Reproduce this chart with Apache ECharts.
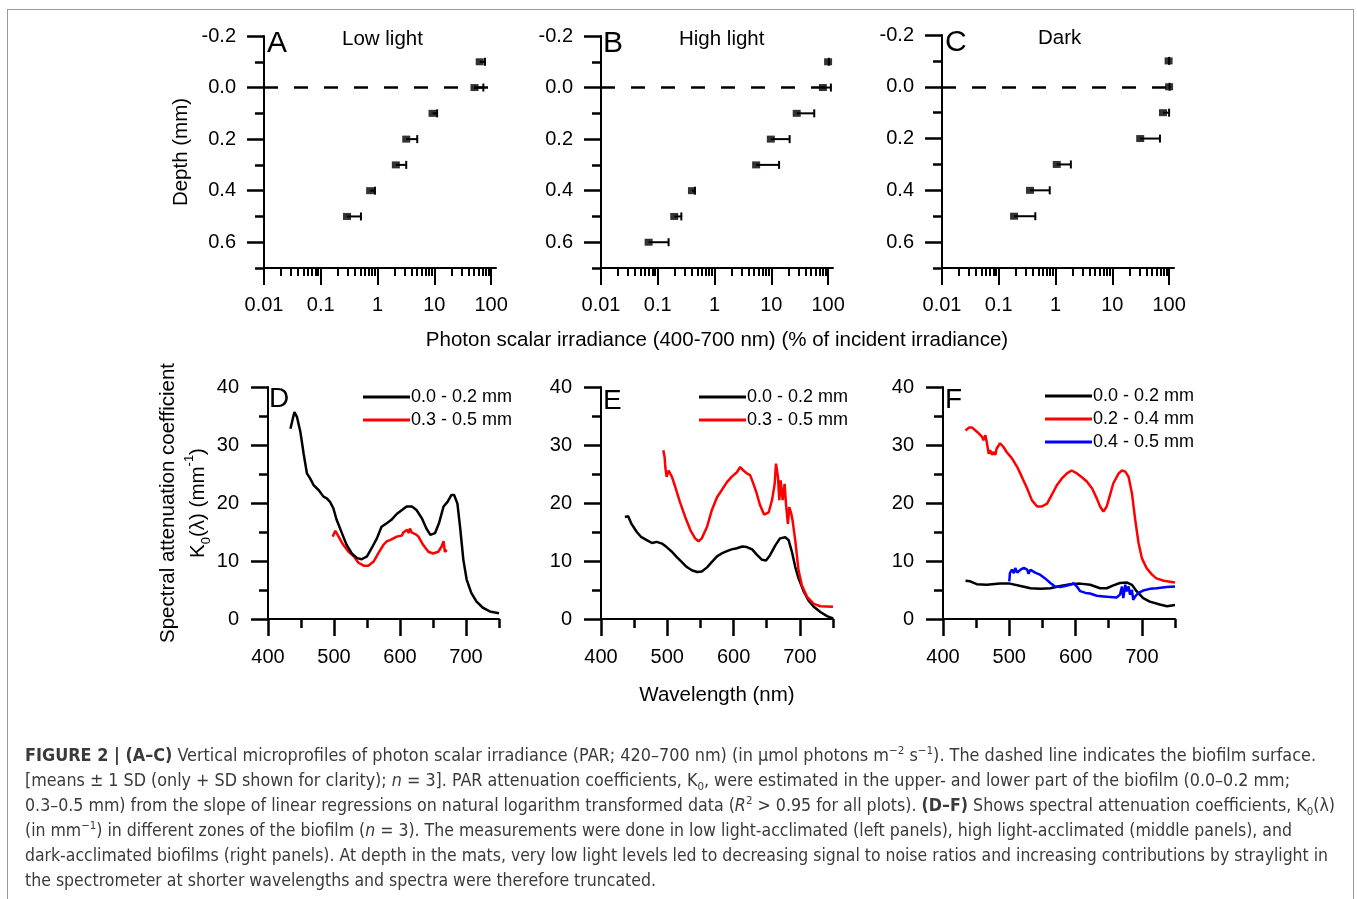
<!DOCTYPE html>
<html><head><meta charset="utf-8">
<script src="https://cdn.jsdelivr.net/npm/echarts@6.0.0/dist/echarts.min.js"></script>
<style>
html,body{margin:0;padding:0;background:#fff;}
#wrap{position:relative;width:1357px;height:899px;overflow:hidden;background:#fff;}
#chart{position:absolute;left:0;top:0;width:1357px;height:899px;}
#frame{position:absolute;left:7px;top:9px;width:1347px;height:900px;border:1px solid #9a9a9a;box-sizing:border-box;pointer-events:none;}
#caption{position:absolute;left:25px;top:743px;font-family:'Liberation Sans Narrow','DejaVu Sans Condensed','Liberation Sans',sans-serif;font-size:17px;line-height:25px;color:#3a3a3a;}
#caption .ln{white-space:nowrap;transform-origin:0 50%;display:block;width:max-content;}
#caption sup,#caption sub{font-size:11px;line-height:0;}
</style></head>
<body>
<div id="wrap">
<div id="chart"></div>
<div id="frame"></div>
<div id="caption">
<div class="ln" data-w="1291"><b>FIGURE 2 | (A–C)</b> Vertical microprofiles of photon scalar irradiance (PAR; 420–700 nm) (in μmol photons m<sup>−2</sup> s<sup>−1</sup>). The dashed line indicates the biofilm surface.</div>
<div class="ln" data-w="1265">[means ± 1 SD (only + SD shown for clarity); <i>n</i> = 3]. PAR attenuation coefficients, K<sub>0</sub>, were estimated in the upper- and lower part of the biofilm (0.0–0.2 mm;</div>
<div class="ln" data-w="1310">0.3–0.5 mm) from the slope of linear regressions on natural logarithm transformed data (<i>R</i><sup>2</sup> &gt; 0.95 for all plots). <b>(D–F)</b> Shows spectral attenuation coefficients, K<sub>0</sub>(λ)</div>
<div class="ln" data-w="1267">(in mm<sup>−1</sup>) in different zones of the biofilm (<i>n</i> = 3). The measurements were done in low light-acclimated (left panels), high light-acclimated (middle panels), and</div>
<div class="ln" data-w="1303">dark-acclimated biofilms (right panels). At depth in the mats, very low light levels led to decreasing signal to noise ratios and increasing contributions by straylight in</div>
<div class="ln" data-w="631">the spectrometer at shorter wavelengths and spectra were therefore truncated.</div>
</div>
</div>
<script>
// ---------------- DATA ----------------
// Panels A-C: depth (mm), mean irradiance (% of incident), +1 SD
const depthA = [-0.1, 0, 0.1, 0.2, 0.3, 0.4, 0.5];
const meanA  = [63, 51, 9.3, 3.2, 2.1, 0.74, 0.29];
const sdA    = [15, 22, 1.9, 1.8, 1.1, 0.16, 0.22];

const depthB = [-0.1, 0, 0.1, 0.2, 0.3, 0.4, 0.5, 0.6];
const meanB  = [100, 81, 28, 9.8, 5.4, 0.40, 0.195, 0.069];
const sdB    = [3, 31, 29, 11.2, 8.3, 0.05, 0.065, 0.086];

const depthC = [-0.1, 0, 0.1, 0.2, 0.3, 0.4, 0.5];
const meanC  = [98, 100, 78, 31, 1.05, 0.355, 0.186];
const sdC    = [2, 2, 22, 38, 0.81, 0.435, 0.254];

// Panels D-F: wavelength (nm) and K0 (mm^-1)
const wlD1 = [434,440,444,449,454,459,464,469,477,484,489,494,499,504,512,519,527,535,542,550,557,565,572,580,587,595,603,610,618,625,633,640,646,653,659,666,672,678,682,687,691,696,701,708,716,726,736,750];
const kD1  = [32.8,35.7,34.8,32.3,28.5,25.1,24.2,23.1,22.2,21.1,20.8,20.2,19.1,17.1,14.8,12.8,11.3,10.5,10.3,10.8,12.2,13.9,15.9,16.5,17.1,18.1,18.8,19.4,19.4,18.8,17.4,15.6,14.5,14.8,16.5,19.4,20.2,21.4,21.4,19.9,15.9,10.2,6.8,4.5,3.0,1.9,1.3,1.0];
const wlD2 = [498,502,507,514,522,530,537,545,552,560,567,575,580,585,590,595,598,603,605,608,611,613,615,618,620,624,628,635,643,650,658,663,666,668,671];
const kD2  = [14.2,15.2,14.2,12.8,11.6,10.8,9.7,9.2,9.2,9.9,11.3,12.8,13.4,13.6,13.9,14.2,14.5,14.4,14.9,14.6,15.4,14.8,15.6,14.9,14.8,14.6,14.2,12.8,11.6,11.3,11.6,12.5,13.4,11.6,11.9];

const wlE1 = [436,441,446,454,461,469,477,484,492,499,507,514,522,529,537,545,552,560,567,575,582,590,597,605,613,620,628,635,643,649,655,663,670,678,683,688,693,698,706,713,721,731,741,750];
const kE1  = [17.6,17.7,16.4,15.0,14.1,13.6,13.1,13.3,13.0,12.4,11.6,10.7,9.8,9.0,8.4,8.1,8.2,8.9,9.8,10.8,11.3,11.7,12.0,12.2,12.5,12.4,12.0,11.1,10.2,10.1,11.0,12.7,13.9,14.1,13.6,11.6,9.0,7.0,4.7,3.2,2.1,1.2,0.5,0.1];
const wlE2 = [494,496,497,499,502,504,507,512,519,527,535,542,547,552,560,567,575,582,590,597,605,610,615,620,625,630,635,640,646,653,658,662,664,667,669,671,674,677,679,682,684,687,689,693,698,703,711,721,731,750];
const kE2  = [29.1,27.9,26.2,24.5,25.6,25.3,24.5,22.8,20.2,17.6,15.3,13.9,13.4,13.9,15.9,18.7,21.0,22.2,23.6,24.5,25.3,26.2,25.6,25.1,24.8,23.3,21.6,19.6,18.0,18.4,20.5,23.3,26.8,24.5,20.5,23.9,20.5,23.3,19.9,16.4,19.3,18.2,17.0,13.6,8.4,5.8,3.8,2.6,2.2,2.1];

const wlF1 = [434,441,451,466,486,501,517,532,547,562,577,592,607,622,637,647,657,667,677,685,692,702,712,727,738,750];
const kF1  = [6.6,6.5,6.0,5.9,6.1,6.1,5.7,5.3,5.2,5.3,5.7,6.0,6.1,5.9,5.3,5.3,5.8,6.2,6.3,5.9,4.8,3.6,3.0,2.5,2.2,2.4];
const wlF2 = [434,439,444,449,454,459,461,464,466,469,471,474,476,479,481,486,491,496,504,512,519,527,534,542,549,557,564,572,579,587,594,602,610,617,625,632,637,642,647,652,657,665,670,675,680,685,690,695,700,707,715,722,733,750];
const kF2  = [32.5,33.0,33.0,32.5,32.0,31.4,30.8,31.7,30.5,28.5,29.1,28.3,28.8,28.3,29.4,30.3,29.7,28.8,27.7,26.2,24.5,22.5,20.5,19.4,19.4,19.9,21.4,23.1,24.2,25.1,25.6,25.1,24.4,23.7,22.5,20.8,19.4,18.5,19.4,21.4,23.4,25.1,25.6,25.4,24.5,21.7,17.1,13.1,10.5,8.8,7.7,7.0,6.6,6.3];
const wlF3 = [500,501,504,507,509,512,517,522,527,529,532,539,547,554,562,569,577,584,592,597,602,607,615,622,632,642,652,662,667,670,672,675,677,680,682,685,687,690,695,702,712,722,738,750];
const kF3  = [6.5,7.9,8.5,7.9,8.8,8.0,8.5,8.8,8.5,7.8,8.5,8.0,7.6,7.0,6.2,5.6,5.5,5.7,5.9,6.2,5.6,4.8,4.5,4.4,4.0,3.9,3.8,3.7,4.2,5.6,3.6,5.9,4.8,5.6,4.2,5.0,3.3,3.9,4.5,4.9,5.2,5.3,5.5,5.6];

// Tick labels / tick positions
const xMajorTicks = [0.01, 0.1, 1, 10, 100];
const xMinorTicks = [0.02,0.03,0.04,0.05,0.06,0.07,0.08,0.09,0.2,0.3,0.4,0.5,0.6,0.7,0.8,0.9,2,3,4,5,6,7,8,9,20,30,40,50,60,70,80,90];
const depthMajorTicks = [-0.2, 0, 0.2, 0.4, 0.6];
const depthMinorTicks = [-0.1, 0.1, 0.3, 0.5, 0.7];
const wlMajorTicks = [400, 500, 600, 700];
const wlMinorTicks = [450, 550, 650, 750];

const panelLetters = ['A', 'B', 'C', 'D', 'E', 'F'];
const panelTitles = ['Low light', 'High light', 'Dark'];
const legendNames = ['0.0 - 0.2 mm', '0.3 - 0.5 mm', '0.2 - 0.4 mm', '0.4 - 0.5 mm'];

// ---------------- CHART ----------------
const FONT = "'Liberation Sans', Arial, sans-serif";
const chart = echarts.init(document.getElementById('chart'), null, {renderer: 'canvas'});

const topGrids = [
  {left: 264, top: 36, width: 232, height: 232},
  {left: 601, top: 36, width: 232, height: 232},
  {left: 942, top: 35, width: 232, height: 233}
];
const botGrids = [
  {left: 268, top: 387, width: 231, height: 232},
  {left: 601, top: 387, width: 232, height: 232},
  {left: 943, top: 387, width: 232, height: 232}
];
const grids = topGrids.concat(botGrids).map(g => Object.assign({outerBoundsMode: 'none', containLabel: false}, g));

const axisLineStyle = {show: true, onZero: false, lineStyle: {color: '#000', width: 2}};
const labelStyle = {color: '#000', fontSize: 20, fontFamily: FONT};
const nameStyle = {color: '#000', fontSize: 20.5, fontFamily: FONT};

const xAxes = [];
const yAxes = [];
// main axes 0..5
for (let i = 0; i < 3; i++) {
  xAxes.push({
    type: 'log', gridIndex: i, min: 0.01, max: 122, position: 'bottom',
    axisLine: axisLineStyle, splitLine: {show: false},
    axisTick: {show: true, inside: false, length: 17, lineStyle: {color: '#000', width: 2}, customValues: xMajorTicks},
    axisLabel: Object.assign({margin: 27, customValues: xMajorTicks, formatter: v => String(+v.toPrecision(3))}, labelStyle),
    name: i === 1 ? 'Photon scalar irradiance (400-700 nm) (% of incident irradiance)' : '',
    nameLocation: 'middle', nameGap: 62,
    nameTextStyle: nameStyle
  });
}
for (let i = 0; i < 3; i++) {
  xAxes.push({
    type: 'value', gridIndex: 3 + i, min: 400, max: 750, position: 'bottom',
    axisLine: axisLineStyle, splitLine: {show: false},
    axisTick: {show: true, length: 17, lineStyle: {color: '#000', width: 2.5}, customValues: wlMajorTicks},
    axisLabel: Object.assign({margin: 28, customValues: wlMajorTicks}, labelStyle),
    name: i === 1 ? 'Wavelength (nm)' : '',
    nameLocation: 'middle', nameGap: 66,
    nameTextStyle: nameStyle
  });
}
for (let i = 0; i < 3; i++) {
  yAxes.push({
    type: 'value', gridIndex: i, min: -0.2, max: 0.7, inverse: true, position: 'left',
    axisLine: axisLineStyle, splitLine: {show: false},
    axisTick: {show: true, length: 17, lineStyle: {color: '#000', width: 2.5}, customValues: depthMajorTicks},
    axisLabel: Object.assign({margin: 28, customValues: depthMajorTicks, formatter: v => (+v).toFixed(1)}, labelStyle),
    name: i === 0 ? 'Depth (mm)' : '',
    nameLocation: 'middle', nameGap: 72,
    nameTextStyle: nameStyle
  });
}
for (let i = 0; i < 3; i++) {
  yAxes.push({
    type: 'value', gridIndex: 3 + i, min: 0, max: 40, interval: 10, position: 'left',
    axisLine: axisLineStyle, splitLine: {show: false},
    axisTick: {show: true, length: 17, lineStyle: {color: '#000', width: 2.5}},
    minorTick: {show: true, splitNumber: 2, length: 9, lineStyle: {color: '#000', width: 2.5}},
    axisLabel: Object.assign({margin: 29}, labelStyle),
    name: i === 0 ? '{t|Spectral attenuation coefficient}\n{t|K}{sub|0}{t|(λ) (mm}{sup|-1}{t|)}' : '',
    nameLocation: 'middle', nameGap: 47,
    nameTextStyle: {
      color: '#000', fontSize: 20.5, fontFamily: FONT, lineHeight: 30,
      rich: {
        t: {fontSize: 20.5, fontFamily: FONT, color: '#000', lineHeight: 30},
        sub: {fontSize: 13, fontFamily: FONT, color: '#000', verticalAlign: 'bottom', lineHeight: 26},
        sup: {fontSize: 13, fontFamily: FONT, color: '#000', verticalAlign: 'top', lineHeight: 30}
      }
    }
  });
}
// minor tick axes 6..11
for (let i = 0; i < 3; i++) {
  xAxes.push({
    type: 'log', gridIndex: i, min: 0.01, max: 122, position: 'bottom', offset: 0,
    axisLine: {show: false, onZero: false}, splitLine: {show: false}, axisLabel: {show: false},
    axisTick: {show: true, length: 8, lineStyle: {color: '#000', width: 2}, customValues: xMinorTicks}
  });
  yAxes.push({
    type: 'value', gridIndex: i, min: -0.2, max: 0.7, inverse: true, position: 'left', offset: 0,
    axisLine: {show: false, onZero: false}, splitLine: {show: false}, axisLabel: {show: false},
    axisTick: {show: true, length: 9, lineStyle: {color: '#000', width: 2.5}, customValues: depthMinorTicks}
  });
}
for (let i = 0; i < 3; i++) {
  xAxes.push({
    type: 'value', gridIndex: 3 + i, min: 400, max: 750, position: 'bottom', offset: 0,
    axisLine: {show: false, onZero: false}, splitLine: {show: false}, axisLabel: {show: false},
    axisTick: {show: true, length: 9, lineStyle: {color: '#000', width: 2.5}, customValues: wlMinorTicks}
  });
}

// series
const series = [];
const profiles = [[depthA, meanA, sdA], [depthB, meanB, sdB], [depthC, meanC, sdC]];
profiles.forEach((p, i) => {
  const [dep, mean, sd] = p;
  series.push({
    type: 'custom', xAxisIndex: i, yAxisIndex: i, z: 3, silent: true,
    data: mean.map((m, k) => [m, dep[k], m + sd[k]]),
    encode: {x: [0, 2], y: 1},
    renderItem: function (params, api) {
      const p0 = api.coord([api.value(0), api.value(1)]);
      const p1 = api.coord([api.value(2), api.value(1)]);
      return {type: 'group', children: [
        {type: 'line', shape: {x1: p0[0], y1: p0[1], x2: p1[0], y2: p1[1]}, style: {stroke: '#000', lineWidth: 2}},
        {type: 'line', shape: {x1: p1[0], y1: p1[1] - 4, x2: p1[0], y2: p1[1] + 4}, style: {stroke: '#000', lineWidth: 2}}
      ]};
    }
  });
  series.push({
    type: 'scatter', xAxisIndex: i, yAxisIndex: i, z: 4, silent: true,
    symbol: 'rect', symbolSize: [8, 7], itemStyle: {color: '#000'},
    data: mean.map((m, k) => [m, dep[k]]),
    markLine: {
      silent: true, symbol: ['none', 'none'], label: {show: false}, animation: false,
      lineStyle: {type: [14, 16], width: 2.5, color: '#000'},
      emphasis: {disabled: true},
      data: [{yAxis: 0}]
    }
  });
});

function lineSeries(name, wl, k, color, gi, z) {
  return {
    type: 'line', name: name, xAxisIndex: gi, yAxisIndex: gi, z: z,
    showSymbol: false, symbol: 'none', silent: true,
    lineStyle: {color: color, width: 2.5}, itemStyle: {color: color},
    data: wl.map((w, j) => [w, k[j]])
  };
}
series.push(lineSeries(legendNames[0], wlD1, kD1, '#000000', 3, 3));
series.push(lineSeries(legendNames[1], wlD2, kD2, '#ff0000', 3, 2));
series.push(lineSeries(legendNames[0], wlE1, kE1, '#000000', 4, 2));
series.push(lineSeries(legendNames[1], wlE2, kE2, '#ff0000', 4, 3));
series.push(lineSeries(legendNames[0], wlF1, kF1, '#000000', 5, 2));
series.push(lineSeries(legendNames[2], wlF2, kF2, '#ff0000', 5, 3));
series.push(lineSeries(legendNames[3], wlF3, kF3, '#0000ff', 5, 4));

const legendBase = {
  orient: 'vertical', icon: 'rect', itemWidth: 47, itemHeight: 3, itemGap: 5, padding: 0,
  selectedMode: false,
  textStyle: {color: '#000', fontSize: 18, fontFamily: FONT, padding: [0, 0, 0, -4], lineHeight: 18}
};
const legends = [
  Object.assign({left: 363, top: 388, data: [legendNames[0], legendNames[1]]}, legendBase),
  Object.assign({left: 699, top: 388, data: [legendNames[0], legendNames[1]]}, legendBase),
  Object.assign({left: 1045, top: 387, data: [legendNames[0], legendNames[2], legendNames[3]]}, legendBase)
];

const titles = [];
const letterPos = [[267, 29, 30], [603, 29, 30], [945, 28, 30], [269, 385, 28], [603, 387, 28], [945, 386, 28]];
panelLetters.forEach((t, i) => titles.push({text: t, left: letterPos[i][0], top: letterPos[i][1], padding: 0,
  textStyle: {fontSize: letterPos[i][2], fontWeight: 'normal', color: '#000', fontFamily: FONT}}));
const titlePos = [[342, 29], [679, 29], [1038, 28]];
panelTitles.forEach((t, i) => titles.push({text: t, left: titlePos[i][0], top: titlePos[i][1], padding: 0,
  textStyle: {fontSize: 20.5, fontWeight: 'normal', color: '#000', fontFamily: FONT}}));

chart.setOption({
  animation: false,
  backgroundColor: 'transparent',
  textStyle: {fontFamily: FONT},
  title: titles,
  legend: legends,
  grid: grids,
  xAxis: xAxes,
  yAxis: yAxes,
  series: series
});

// fit caption lines to the measured widths of the reference
document.querySelectorAll('#caption .ln').forEach(el => {
  const target = +el.getAttribute('data-w');
  const w = el.getBoundingClientRect().width;
  if (w > 0) el.style.transform = 'scaleX(' + (target / w).toFixed(4) + ')';
});
</script>
</body></html>
